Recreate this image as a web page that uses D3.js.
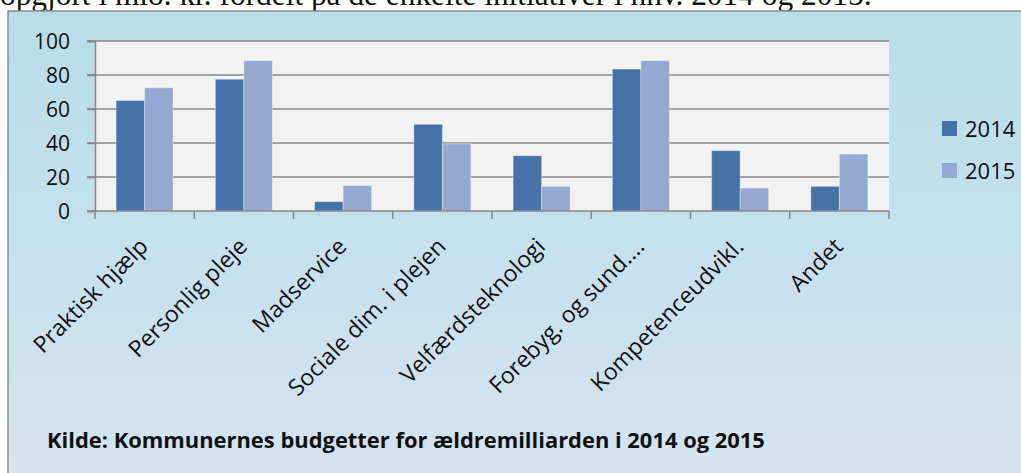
<!DOCTYPE html>
<html>
<head>
<meta charset="utf-8">
<script src="https://cdn.jsdelivr.net/npm/d3@7/dist/d3.min.js"></script>
<style>
html,body{margin:0;padding:0;background:#fff;overflow:hidden;}
svg{display:block;}
</style>
</head>
<body>
<script>
const categories = ["Praktisk hjælp","Personlig pleje","Madservice","Sociale dim. i plejen","Velfærdsteknologi","Forebyg. og sund....","Kompetenceudvikl.","Andet"];
const seriesNames = ["2014","2015"];
const values2014 = [65, 77.5, 5.5, 51, 32.5, 83.5, 35.5, 14.5];
const values2015 = [72.5, 88.5, 15, 39.5, 14.5, 88.5, 13.5, 33.5];
const yTicks = [0,20,40,60,80,100];
const headerText = "opgjort i mio. kr. fordelt på de enkelte initiativer i hhv. 2014 og 2015.";
const sourceText = "Kilde: Kommunernes budgetter for ældremilliarden i 2014 og 2015";

const W = 1021, H = 473;
const plot = {left: 95, right: 889, top: 41, bottom: 211};
const colors = {"2014": "#4672a7", "2015": "#95a9d0"};
const font = "'Open Sans', Lato, sans-serif";

const svg = d3.select("body").append("svg").attr("width", W).attr("height", H);
const defs = svg.append("defs");
const grad = defs.append("linearGradient").attr("id","bg").attr("x1",0).attr("y1",0).attr("x2",0).attr("y2",1);
grad.append("stop").attr("offset","0%").attr("stop-color","#b7dde8");
grad.append("stop").attr("offset","100%").attr("stop-color","#d5e4f2");

// header text (cut at top, as in the reference)
const hdr = svg.append("text").attr("x", 0).attr("y", 5)
  .attr("font-family","'Liberation Serif', 'DejaVu Serif', serif").attr("font-size", 26)
  .attr("fill","#111").text(headerText);
const hl = hdr.node().getComputedTextLength();
if (hl > 0) hdr.attr("font-size", 26 * 872 / hl);

// chart box
svg.append("rect").attr("x", 8).attr("y", 11).attr("width", W + 10).attr("height", H + 10)
  .attr("fill","url(#bg)").attr("stroke","#8c8c8c").attr("stroke-width",1.5);

// plot area
svg.append("rect").attr("x", plot.left).attr("y", plot.top)
  .attr("width", plot.right - plot.left).attr("height", plot.bottom - plot.top).attr("fill","#f2f2f2");

const x = d3.scaleBand().domain(categories).range([plot.left, plot.right]).padding(0);
const xs = d3.scaleBand().domain(seriesNames).range([0, x.bandwidth()]).paddingInner(0).paddingOuter(0.74);
const y = d3.scaleLinear().domain([0,100]).range([plot.bottom, plot.top]);

// gridlines
svg.append("g").selectAll("line").data(yTicks.filter(d=>d>0)).join("line")
  .attr("x1", plot.left - 8).attr("x2", plot.right)
  .attr("y1", d=>y(d)).attr("y2", d=>y(d))
  .attr("stroke","#878787").attr("stroke-width",1.5);

// bars
const data = categories.map((c,i)=>({c, vals:[{s:"2014", v:values2014[i]},{s:"2015", v:values2015[i]}]}));
const gBars = svg.append("g");
data.forEach(d=>{
  gBars.selectAll(null).data(d.vals).join("rect")
    .attr("x", v=>x(d.c)+xs(v.s))
    .attr("width", xs.bandwidth())
    .attr("y", v=>y(v.v))
    .attr("height", v=>y(0)-y(v.v))
    .attr("fill", v=>colors[v.s])
    .attr("stroke", "rgba(255,255,255,0.35)").attr("stroke-width",1);
});

// y axis
const yAxis = d3.axisLeft(y).tickValues(yTicks).tickSize(8).tickPadding(17);
const gy = svg.append("g").attr("transform",`translate(${plot.left},0)`).call(yAxis);
gy.select(".domain").attr("stroke","#878787").attr("stroke-width",1.5);
gy.selectAll(".tick line").attr("stroke","#878787").attr("stroke-width",1.5);
gy.selectAll(".tick text").attr("font-family",font).attr("font-size",21).attr("fill","#111").attr("dy","0.35em");

// x axis
const gx = svg.append("g").attr("transform",`translate(0,${plot.bottom})`);
gx.append("line").attr("x1",plot.left - 8).attr("x2",plot.right).attr("y1",0).attr("y2",0)
  .attr("stroke","#878787").attr("stroke-width",1.5);
const bounds = categories.map(c=>x(c)).concat([x(categories[categories.length-1]) + x.bandwidth()]);
gx.selectAll("line.t").data(bounds).join("line").attr("class","t")
  .attr("x1",d=>d).attr("x2",d=>d).attr("y1",0).attr("y2",8)
  .attr("stroke","#878787").attr("stroke-width",1.5);
gx.selectAll("text").data(categories).join("text")
  .attr("transform", c=>`translate(${x(c)+x.bandwidth()/2},${243-plot.bottom}) rotate(-45)`)
  .attr("text-anchor","end").attr("dy","0.3em")
  .attr("font-family",font).attr("font-size",23).attr("fill","#111")
  .text(c=>c);

// legend
const lg = svg.append("g");
seriesNames.forEach((s,i)=>{
  const yy = 121 + i*42;
  lg.append("rect").attr("x",942).attr("y",yy).attr("width",15).attr("height",15).attr("fill",colors[s]);
  lg.append("text").attr("x",965).attr("y",yy+15.5).attr("font-family",font).attr("font-size",22).attr("fill","#111").text(s);
});

// source
const src = svg.append("text").attr("x",47).attr("y",448).attr("font-family",font).attr("font-weight","bold")
  .attr("font-size",20).attr("fill","#111").text(sourceText);
const len = src.node().getComputedTextLength();
if (len > 0) src.attr("font-size", 20 * 718 / len);
</script>
</body>
</html>
